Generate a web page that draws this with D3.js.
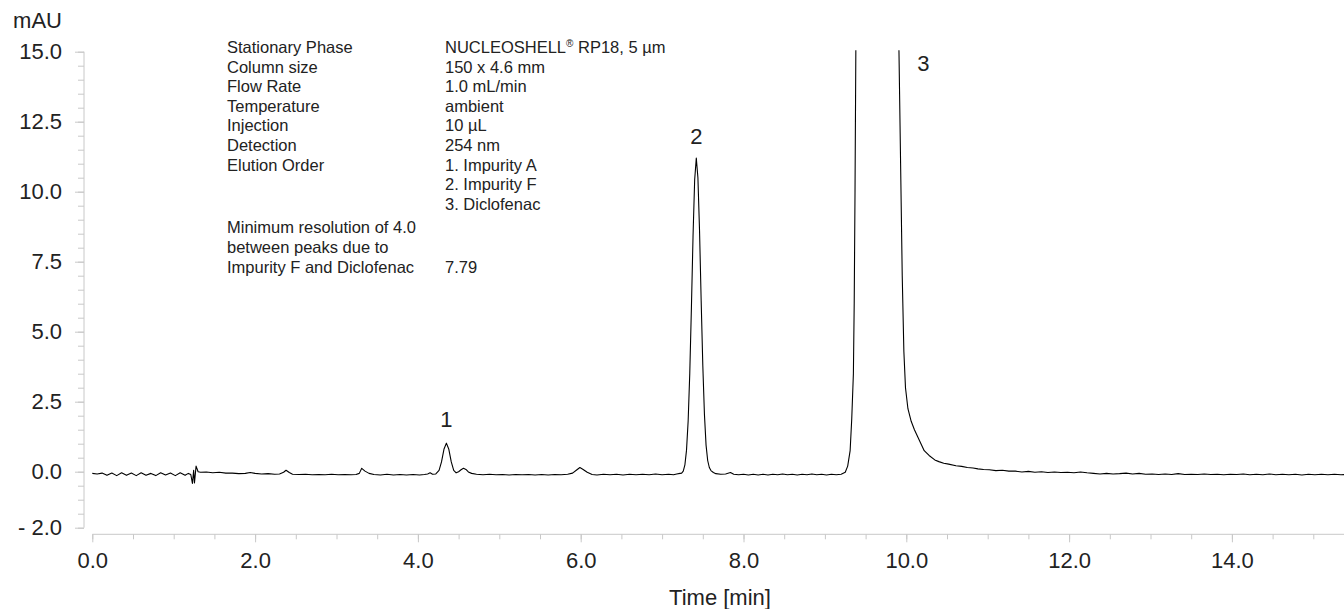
<!DOCTYPE html>
<html>
<head>
<meta charset="utf-8">
<script src="https://cdn.jsdelivr.net/npm/d3@7"></script>
<style>
    html, body { margin: 0; padding: 0; background: #fff; }
    svg { display: block; font-family: "Liberation Sans", Arial, sans-serif; }
    .axis path { display: none; }
    .axis line { stroke: #c8c8c8; stroke-width: 1; }
    .axis text { fill: #222; font-size: 22px; }
    .note { fill: #222; font-size: 16.5px; }
</style>
</head>
<body>
<div id="chart"></div>
<script>
// chromatogram trace, [time (min), signal (mAU)]
const trace = [
    [0.00, -0.06], [0.06, -0.08], [0.12, -0.05], [0.18, -0.13], [0.24, -0.05], [0.30, -0.14],
    [0.36, -0.04], [0.42, -0.13], [0.48, -0.05], [0.54, -0.14], [0.60, -0.04], [0.66, -0.13],
    [0.72, -0.06], [0.78, -0.14], [0.84, -0.04], [0.90, -0.12], [0.96, -0.05], [1.02, -0.14],
    [1.08, -0.04], [1.14, -0.13], [1.18, -0.06], [1.21, -0.10], [1.23, -0.42], [1.245, 0.05],
    [1.255, -0.40], [1.275, 0.20], [1.30, 0.00], [1.33, -0.02], [1.40, -0.01], [1.48, -0.04],
    [1.56, -0.02], [1.64, -0.05], [1.72, -0.05], [1.80, -0.07], [1.88, -0.06], [1.94, -0.03],
    [2.00, -0.06], [2.08, -0.08], [2.16, -0.07], [2.24, -0.09], [2.30, -0.08], [2.35, -0.02],
    [2.38, 0.05], [2.42, -0.03], [2.46, -0.09], [2.54, -0.10], [2.62, -0.09], [2.70, -0.11],
    [2.78, -0.10], [2.86, -0.11], [2.94, -0.09], [3.02, -0.11], [3.10, -0.10], [3.18, -0.11],
    [3.24, -0.10], [3.28, -0.06], [3.31, 0.12], [3.35, 0.02], [3.40, -0.06], [3.46, -0.10],
    [3.54, -0.12], [3.62, -0.09], [3.70, -0.12], [3.78, -0.10], [3.86, -0.12], [3.94, -0.10],
    [4.02, -0.12], [4.08, -0.10], [4.12, -0.08], [4.15, -0.04], [4.18, -0.09], [4.22, -0.08],
    [4.26, 0.05], [4.29, 0.35], [4.32, 0.80], [4.35, 1.02], [4.38, 0.80], [4.41, 0.35],
    [4.44, 0.05], [4.47, -0.04], [4.50, 0.00], [4.53, 0.07], [4.56, 0.12], [4.59, 0.08],
    [4.62, -0.01], [4.66, -0.06], [4.72, -0.09], [4.80, -0.11], [4.88, -0.09], [4.96, -0.11],
    [5.04, -0.10], [5.12, -0.12], [5.20, -0.10], [5.28, -0.11], [5.36, -0.10], [5.44, -0.12],
    [5.52, -0.10], [5.60, -0.12], [5.68, -0.10], [5.76, -0.11], [5.84, -0.09], [5.90, -0.05],
    [5.95, 0.06], [5.99, 0.15], [6.03, 0.08], [6.08, -0.02], [6.14, -0.10], [6.20, -0.12],
    [6.28, -0.09], [6.36, -0.11], [6.44, -0.09], [6.52, -0.12], [6.60, -0.09], [6.68, -0.11],
    [6.76, -0.09], [6.84, -0.11], [6.92, -0.08], [7.00, -0.11], [7.08, -0.09], [7.14, -0.11],
    [7.18, -0.08], [7.22, -0.06], [7.24, -0.05], [7.26, 0.02], [7.28, 0.24], [7.30, 0.77],
    [7.32, 1.81], [7.34, 3.52], [7.36, 5.85], [7.38, 8.40], [7.40, 10.42], [7.42, 11.20],
    [7.44, 10.50], [7.46, 8.60], [7.48, 6.10], [7.50, 3.80], [7.52, 2.05], [7.54, 0.95],
    [7.56, 0.40], [7.58, 0.15], [7.60, 0.04], [7.63, -0.03], [7.66, -0.07], [7.72, -0.09],
    [7.78, -0.08], [7.84, -0.03], [7.88, -0.09], [7.94, -0.11], [8.00, -0.09], [8.06, -0.12],
    [8.12, -0.09], [8.18, -0.12], [8.24, -0.09], [8.30, -0.12], [8.36, -0.09], [8.42, -0.11],
    [8.48, -0.08], [8.54, -0.11], [8.60, -0.09], [8.66, -0.12], [8.72, -0.09], [8.78, -0.11],
    [8.84, -0.08], [8.90, -0.11], [8.96, -0.09], [9.02, -0.12], [9.08, -0.09], [9.14, -0.11],
    [9.20, -0.09], [9.25, -0.02], [9.28, 0.20], [9.31, 0.75], [9.33, 1.90], [9.35, 3.50],
    [9.36, 6.00], [9.37, 10.0], [9.38, 15.0], [9.40, 21.0], [9.45, 30.0], [9.62, 42.0],
    [9.80, 30.0], [9.88, 19.0], [9.91, 15.0], [9.93, 11.0], [9.95, 7.0], [9.97, 4.3],
    [9.99, 3.0], [10.02, 2.25], [10.06, 1.8], [10.10, 1.5], [10.14, 1.25], [10.18, 1.0],
    [10.22, 0.75], [10.28, 0.58], [10.35, 0.42], [10.40, 0.36], [10.46, 0.30], [10.52, 0.27],
    [10.61, 0.21], [10.68, 0.19], [10.75, 0.15], [10.82, 0.13], [10.88, 0.10], [10.95, 0.08],
    [11.02, 0.07], [11.10, 0.04], [11.18, 0.05], [11.26, 0.02], [11.34, 0.02], [11.42, -0.01],
    [11.50, 0.01], [11.58, -0.02], [11.66, 0.00], [11.74, -0.03], [11.82, -0.01], [11.90, -0.03],
    [11.98, -0.02], [12.06, -0.04], [12.14, -0.01], [12.22, -0.04], [12.30, -0.06], [12.38, -0.08],
    [12.46, -0.06], [12.54, -0.08], [12.62, -0.07], [12.70, -0.05], [12.78, -0.08], [12.86, -0.06],
    [12.94, -0.09], [13.02, -0.08], [13.10, -0.10], [13.18, -0.08], [13.26, -0.10], [13.34, -0.07],
    [13.42, -0.10], [13.50, -0.09], [13.58, -0.10], [13.66, -0.08], [13.74, -0.10], [13.82, -0.09],
    [13.90, -0.11], [13.98, -0.09], [14.06, -0.10], [14.14, -0.08], [14.22, -0.11], [14.30, -0.09],
    [14.38, -0.11], [14.46, -0.08], [14.54, -0.11], [14.62, -0.09], [14.70, -0.11], [14.78, -0.09],
    [14.86, -0.12], [14.94, -0.09], [15.02, -0.11], [15.10, -0.09], [15.18, -0.11], [15.26, -0.09],
    [15.34, -0.11], [15.42, -0.10]
];

// peak numbers: [label, time, mAU of the text baseline]
const peakLabels = [
    ['1', 4.35, 1.58],
    ['2', 7.42, 11.7],
    ['3', 10.21, 14.3]
];

const xMajorTicks = [0, 2, 4, 6, 8, 10, 12, 14];
const xMinorTicks = d3.range(0, 15.01, 0.5);
const yMajorTicks = [-2, 0, 2.5, 5, 7.5, 10, 12.5, 15];
const yMinorTicks = d3.range(-2, 15.01, 0.5);
const yTickText = v => v < 0 ? '- ' + d3.format('.1f')(-v) : d3.format('.1f')(v);

// method block: left column / right column
const methodKeys = ['Stationary Phase', 'Column size', 'Flow Rate', 'Temperature', 'Injection',
    'Detection', 'Elution Order', '', ''];
const methodValues = ['NUCLEOSHELL® RP18, 5 µm', '150 x 4.6 mm', '1.0 mL/min', 'ambient', '10 µL',
    '254 nm', '1. Impurity A', '2. Impurity F', '3. Diclofenac'];
const resolutionKeys = ['Minimum resolution of 4.0', 'between peaks due to', 'Impurity F and Diclofenac'];
const resolutionValues = ['', '', '7.79'];

class Chromatogram {
    constructor() {
        this.width = 1344;
        this.height = 609;
    }

    render() {
        const svg = d3.select('#chart').append('svg')
            .attr('width', this.width)
            .attr('height', this.height);

        const x = d3.scaleLinear().domain([0, 15]).range([92.3, 1313.3]);
        const y = d3.scaleLinear().domain([-2, 15]).range([527.7, 51.7]);
        const xAxisY = 534.3;
        const yAxisX = 84;

        // y axis
        svg.append('line')
            .attr('x1', yAxisX).attr('x2', yAxisX)
            .attr('y1', y(15)).attr('y2', y(-2))
            .attr('stroke', '#c8c8c8');
        svg.append('g').attr('class', 'axis')
            .attr('transform', `translate(${yAxisX},0)`)
            .call(d3.axisLeft(y).tickValues(yMinorTicks).tickSize(6).tickFormat(''));
        svg.append('g').attr('class', 'axis')
            .attr('transform', `translate(${yAxisX},0)`)
            .call(d3.axisLeft(y).tickValues(yMajorTicks).tickSize(9).tickPadding(13).tickFormat(yTickText));

        // x axis
        svg.append('line')
            .attr('x1', x(0)).attr('x2', this.width)
            .attr('y1', xAxisY).attr('y2', xAxisY)
            .attr('stroke', '#c8c8c8');
        svg.append('g').attr('class', 'axis')
            .attr('transform', `translate(0,${xAxisY})`)
            .call(d3.axisBottom(x).tickValues(xMinorTicks).tickSize(5).tickFormat(''));
        svg.append('g').attr('class', 'axis')
            .attr('transform', `translate(0,${xAxisY})`)
            .call(d3.axisBottom(x).tickValues(xMajorTicks).tickSize(8).tickPadding(10).tickFormat(d3.format('.1f')));

        svg.append('text')
            .attr('x', 62).attr('y', 28)
            .attr('text-anchor', 'end')
            .attr('fill', '#222').attr('font-size', 22)
            .text('mAU');

        svg.append('text')
            .attr('x', 720).attr('y', 605)
            .attr('text-anchor', 'middle')
            .attr('fill', '#222').attr('font-size', 22)
            .text('Time [min]');

        // trace, clipped at the top of the range
        svg.append('clipPath').attr('id', 'plot-clip')
            .append('rect')
            .attr('x', yAxisX).attr('y', y(15.05))
            .attr('width', this.width - yAxisX).attr('height', xAxisY - y(15.05));

        const line = d3.line()
            .x(d => x(d[0]))
            .y(d => y(d[1]));

        svg.append('path')
            .datum(trace)
            .attr('clip-path', 'url(#plot-clip)')
            .attr('fill', 'none')
            .attr('stroke', '#000')
            .attr('stroke-width', 1.1)
            .attr('stroke-linejoin', 'round')
            .attr('d', line);

        svg.append('g')
            .selectAll('text')
            .data(peakLabels)
            .join('text')
            .attr('x', d => x(d[1]))
            .attr('y', d => y(d[2]))
            .attr('text-anchor', 'middle')
            .attr('fill', '#222').attr('font-size', 22)
            .text(d => d[0]);

        // method details
        const rowH = 19.6;
        const top = 53;
        const notes = svg.append('g');
        methodKeys.forEach((k, i) => {
            notes.append('text').attr('class', 'note')
                .attr('x', 227).attr('y', top + i * rowH).text(k);
            const v = notes.append('text').attr('class', 'note')
                .attr('x', 445).attr('y', top + i * rowH);
            if (methodValues[i].includes('®')) {
                const parts = methodValues[i].split('®');
                v.append('tspan').text(parts[0]);
                v.append('tspan').attr('font-size', 10).attr('dy', -6).text('®');
                v.append('tspan').attr('dy', 6).text(parts[1]);
            } else {
                v.text(methodValues[i]);
            }
        });
        const resTop = top + methodKeys.length * rowH + 4;
        resolutionKeys.forEach((k, i) => {
            notes.append('text').attr('class', 'note')
                .attr('x', 227).attr('y', resTop + i * rowH).text(k);
            notes.append('text').attr('class', 'note')
                .attr('x', 445).attr('y', resTop + i * rowH).text(resolutionValues[i]);
        });
    }
}

const chart = new Chromatogram();
chart.render();
</script>
</body>
</html>
